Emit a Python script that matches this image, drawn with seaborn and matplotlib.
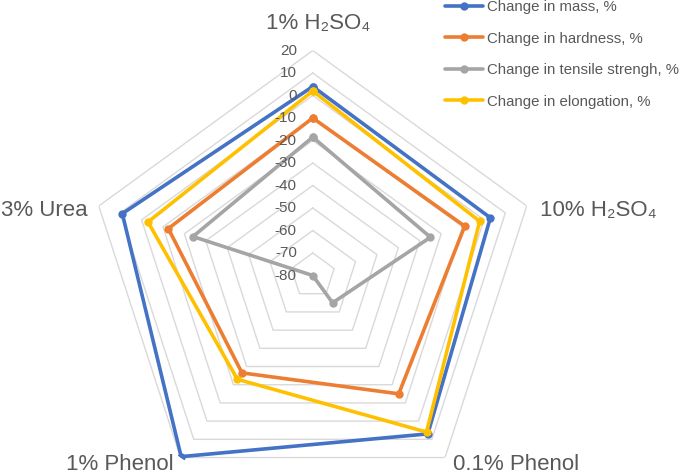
import numpy as np
import pandas as pd
import seaborn as sns
import matplotlib.pyplot as plt
from matplotlib.lines import Line2D

# categories (clockwise from the top) and the four series, in %
categories = ["1% H\u2082SO\u2084", "10% H\u2082SO\u2084", "0.1% Phenol", "1% Phenol", "3% Urea"]
mass = [4, 3, 7, 19.5, 9]
hardness = [-10, -9, -15, -26.5, -12.5]
tensile = [-18.5, -25, -65, -80, -24]
elongation = [2, -2, 6, -23, -3]
series_names = ["Change in mass, %", "Change in hardness, %",
                "Change in tensile strengh, %", "Change in elongation, %"]
colors = ["#4472C4", "#ED7D31", "#A5A5A5", "#FFC000"]
r_ticks = [20, 10, 0, -10, -20, -30, -40, -50, -60, -70, -80]

sns.set_style("white")
plt.rcParams['font.family'] = ['Liberation Sans Narrow', 'Liberation Sans', 'DejaVu Sans']

n = len(categories)
angles = np.linspace(0, 2 * np.pi, n, endpoint=False)
angles_closed = np.append(angles, angles[0])

# long form table, first point repeated to close each polygon
rows = []
for name, vals in zip(series_names, [mass, hardness, tensile, elongation]):
    vals_closed = list(vals) + [vals[0]]
    for i, (a, v) in enumerate(zip(angles_closed, vals_closed)):
        rows.append({"series": name, "theta": a, "value": v, "order": i})
df = pd.DataFrame(rows)

fig = plt.figure(figsize=(6.82, 4.76), dpi=100)
ax = fig.add_axes([0.1286, -0.0515, 0.66, 0.9454], projection="polar")
ax.set_theta_zero_location("N")
ax.set_theta_direction(-1)
ax.set_ylim(-80, 20)
ax.grid(False)
ax.spines["polar"].set_visible(False)
ax.set_xticks([])
ax.set_yticks([])

# pentagon grid
for v in r_ticks[:-1]:
    ax.plot(angles_closed, [v] * (n + 1), color="#D9D9D9", lw=1, zorder=1)

sns.lineplot(data=df, x="theta", y="value", hue="series", hue_order=series_names,
             palette=colors, sort=False, estimator=None, units="series",
             marker="o", markersize=6, markeredgewidth=0, linewidth=2.6,
             legend=False, ax=ax, zorder=3)
ax.set_xlabel("")
ax.set_ylabel("")

# radial tick labels along the top axis
for v in r_ticks:
    ax.annotate(str(v), xy=(0, v), xytext=(-16, 0), textcoords="offset pixels",
                ha="right", va="center", fontsize=11, color="#595959")

# category labels
label_pos = [((5, 22), "center"),
             ((13, -10), "left"),
             ((8, -12), "left"),
             ((-7, -12), "right"),
             ((-11, -10), "right")]
for a, lab, (off, ha) in zip(angles, categories, label_pos):
    ax.annotate(lab, xy=(a, 20), xytext=off, textcoords="offset pixels",
                ha=ha, va="baseline", fontsize=16, color="#595959")

handles = [Line2D([0], [0], color=c, lw=2.6, marker="o", markersize=6,
                  markeredgewidth=0) for c in colors]
fig.legend(handles, series_names, loc="upper left",
           bbox_to_anchor=(445 / 682, 1.0), frameon=False,
           fontsize=10.8, handlelength=2.5, handletextpad=0.27,
           labelspacing=1.17, borderpad=0, borderaxespad=0,
           labelcolor="#595959")

fig.savefig("out.png", dpi=100)
